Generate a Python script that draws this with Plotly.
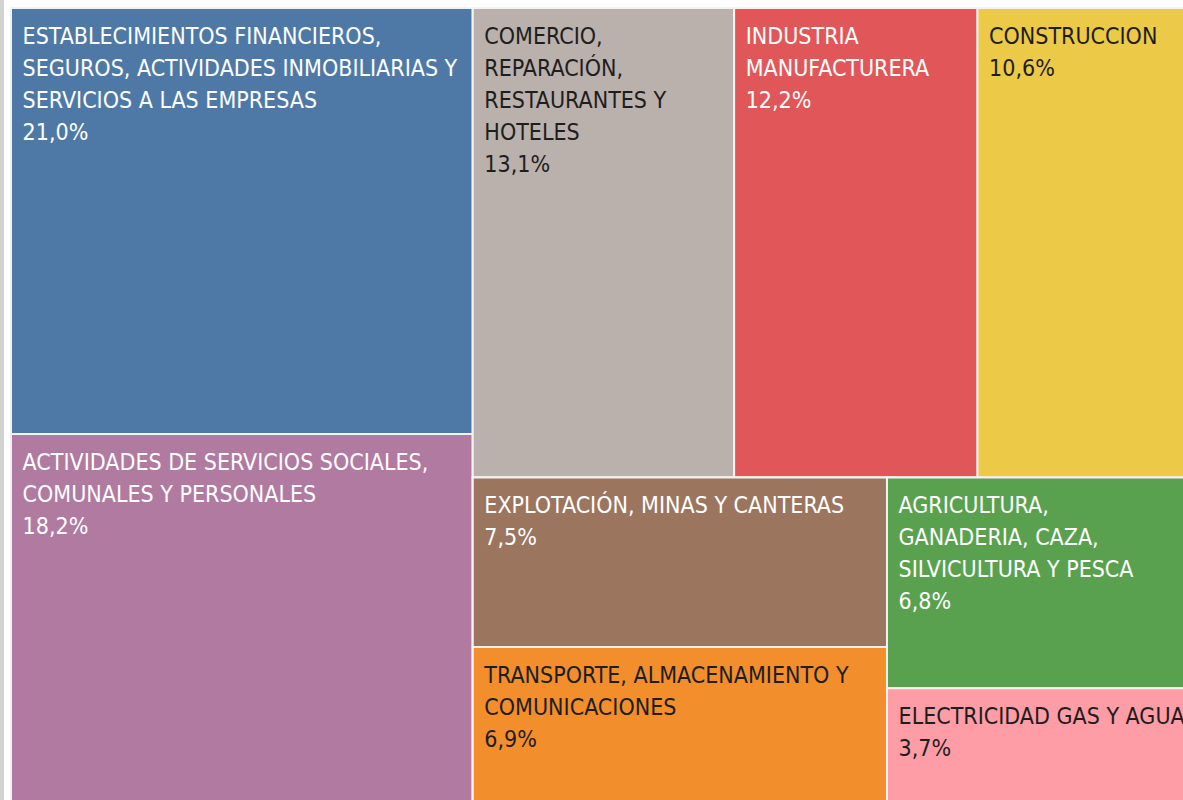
import plotly.graph_objects as go

# Sectores (texto tal como aparece, con sus saltos de línea) y participación (%)
sectores = [
    "ESTABLECIMIENTOS FINANCIEROS,<br>SEGUROS, ACTIVIDADES INMOBILIARIAS Y<br>SERVICIOS A LAS EMPRESAS",
    "ACTIVIDADES DE SERVICIOS SOCIALES,<br>COMUNALES Y PERSONALES",
    "COMERCIO,<br>REPARACIÓN,<br>RESTAURANTES Y<br>HOTELES",
    "INDUSTRIA<br>MANUFACTURERA",
    "CONSTRUCCION",
    "EXPLOTACIÓN, MINAS Y CANTERAS",
    "TRANSPORTE, ALMACENAMIENTO Y<br>COMUNICACIONES",
    "AGRICULTURA,<br>GANADERIA, CAZA,<br>SILVICULTURA Y PESCA",
    "ELECTRICIDAD GAS Y AGUA",
]
participacion = [21.0, 18.2, 13.1, 12.2, 10.6, 7.5, 6.9, 6.8, 3.7]
colores = ["#4E79A7", "#B07AA1", "#BAB0AC", "#E15759", "#EDC948",
           "#9C755F", "#F28E2B", "#59A14F", "#FF9DA7"]
color_texto = ["#ffffff", "#ffffff", "#1e1e1e", "#ffffff", "#1e1e1e",
               "#ffffff", "#1e1e1e", "#ffffff", "#1e1e1e"]

# Agrupación del mosaico (bloques de la disposición)
grupos = ["total", "izq", "der", "der_sup", "der_inf", "inf_izq", "inf_der"]
padres_grupos = ["", "total", "total", "der", "der", "der_inf", "der_inf"]
grupo_de_sector = ["izq", "izq", "der_sup", "der_sup", "der_sup",
                   "inf_izq", "inf_izq", "inf_der", "inf_der"]

# margen interior del texto (sangría y línea de respiro superior)
sangria = "<span style='font-size:30px'>\u00a0</span>"
respiro = "<span style='font-size:1px'>\u00a0</span><br>"


def linea(t):
    return sangria + "<span style='font-size:23px'>" + t + "</span>"


textos = [respiro + "<br>".join(linea(l) for l in s.split("<br>"))
          + "<br>" + linea(f"{v:.1f}".replace(".", ",") + "%")
          for s, v in zip(sectores, participacion)]

ids = grupos + [f"s{i}" for i in range(len(sectores))]
labels = [""] * len(grupos) + [s.replace("<br>", " ") for s in sectores]
parents = padres_grupos + grupo_de_sector
values = [0] * len(grupos) + participacion
node_colors = ["#ffffff"] * len(grupos) + colores
text_colors = ["#ffffff"] * len(grupos) + color_texto
node_text = [""] * len(grupos) + textos
templates = [""] * len(grupos) + ["%{text}"] * len(sectores)

fig = go.Figure(go.Treemap(
    ids=ids,
    labels=labels,
    parents=parents,
    values=values,
    text=node_text,
    branchvalues="remainder",
    sort=False,
    marker=dict(colors=node_colors, line=dict(color="#f4f2f0", width=2),
                pad=dict(t=0, l=0, r=0, b=0)),
    texttemplate=templates,
    textposition="top left",
    textfont=dict(family="DejaVu Sans Condensed, sans-serif",
                  size=24.6, color=text_colors),
    tiling=dict(packing="slice-dice", pad=0),
    pathbar=dict(visible=False),
    hovertemplate="%{label}<br>%{value:.1f}%<extra></extra>",
))

fig.update_layout(
    width=1189, height=803,
    margin=dict(l=11, t=8, r=0, b=0),
    paper_bgcolor="#ffffff",
    separators=",.",
    shapes=[dict(type="rect", xref="paper", yref="paper",
                 x0=-11 / 1178, x1=-7 / 1178, y0=0, y1=1.02,
                 fillcolor="#d2d2d2", line=dict(width=0), layer="below")],
)

fig.write_html("out.html", config={"displayModeBar": False},
               post_script="document.body.style.margin='0px';document.body.style.overflow='hidden';")
